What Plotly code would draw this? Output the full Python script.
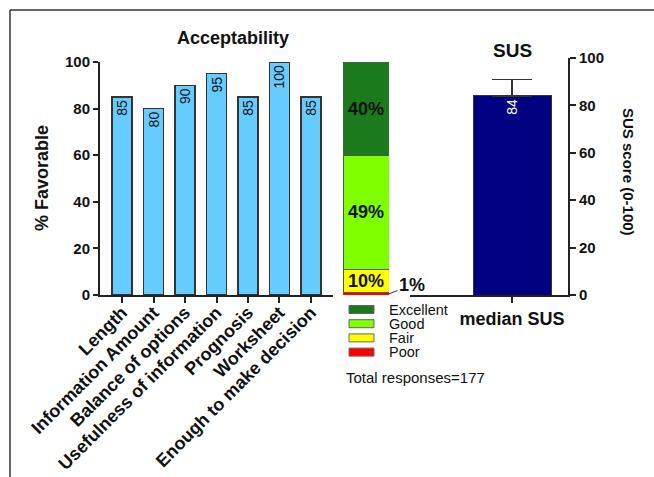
import plotly.graph_objects as go

# ---------------- data ----------------
categories = ["Length", "Information Amount", "Balance of options",
              "Usefulness of information", "Prognosis", "Worksheet",
              "Enough to make decision"]
favorable = [85, 80, 90, 95, 85, 100, 85]

rating_names = ["Poor", "Fair", "Good", "Excellent"]
rating_pct = [1, 10, 49, 40]
rating_colors = ["#FF0000", "#FFFF00", "#80FF00", "#1B7A1B"]
total_responses = 177

sus_label = ["median SUS"]
sus_value = [84]
sus_err_up = [7]

# ---------------- layout helpers ----------------
W, H = 654, 477
def px(x):
    return x / W
def py(y):
    return 1 - y / H

FONT = "Liberation Sans, Arial, sans-serif"
AXC = "#222222"

fig = go.Figure()

# Acceptability bars
fig.add_trace(go.Bar(
    x=categories, y=favorable, xaxis="x", yaxis="y",
    marker=dict(color="#66CCFF", line=dict(color="#333333", width=1.5)),
    width=0.635,
    text=[str(v) for v in favorable], textposition="inside",
    insidetextanchor="end", textangle=-90,
    textfont=dict(size=14, color="#111111", family=FONT),
    constraintext="none",
    showlegend=False, hoverinfo="x+y",
))

# Stacked rating bar
cum = 0
for name, val, col in zip(rating_names, rating_pct, rating_colors):
    fig.add_trace(go.Bar(
        x=[0], y=[val], xaxis="x2", yaxis="y", name=name,
        marker=dict(color=col, line=dict(color="#555555", width=1)),
        width=1, showlegend=False,
    ))
    mid = cum + val / 2
    if val >= 5:
        fig.add_annotation(x=0, y=mid, xref="x2", yref="y", text=f"{val}%",
                           showarrow=False, xanchor="center", yanchor="middle",
                           font=dict(size=18, color="#111111", family=FONT, weight="bold"))
    else:
        fig.add_annotation(x=0.5, y=mid, xref="x2", yref="y", text=f"{val}%",
                           showarrow=True, arrowhead=0, arrowwidth=1,
                           arrowcolor="#333333", ax=23, ay=-9,
                           font=dict(size=18, color="#111111", family=FONT, weight="bold"))
    cum += val

# SUS bar
fig.add_trace(go.Bar(
    x=sus_label, y=sus_value, xaxis="x3", yaxis="y3",
    marker=dict(color="#000080", line=dict(color="#333333", width=1)),
    width=1,
    error_y=dict(type="data", symmetric=False, array=sus_err_up,
                 arrayminus=[0], color="#333333", thickness=1.5, width=20),
    text=[str(v) for v in sus_value], textposition="inside",
    insidetextanchor="end", textangle=-90,
    textfont=dict(size=14, color="white", family=FONT),
    constraintext="none",
    showlegend=False,
))

tickfont = dict(size=15, color="#111111", family=FONT, weight="bold")

fig.update_layout(
    width=W, height=H,
    margin=dict(l=0, r=0, t=0, b=0, autoexpand=False),
    paper_bgcolor="white", plot_bgcolor="rgba(0,0,0,0)",
    barmode="stack",
    font=dict(family=FONT, color="#111111"),
    xaxis=dict(domain=[px(100), px(333)], range=[-0.7, 6.7],
               showline=True, linecolor=AXC, linewidth=2,
               ticks="outside", ticklen=6, tickwidth=2, tickcolor=AXC,
               tickangle=-45, showgrid=False, zeroline=False,
               tickfont=dict(size=18, color="#111111", family=FONT, weight="bold"),
               ticklabelstandoff=-8,
               anchor="y", automargin=False),
    yaxis=dict(domain=[py(295), py(62)], range=[0, 100], dtick=20,
               showline=True, linecolor=AXC, linewidth=2,
               ticks="outside", ticklen=5, tickwidth=2, tickcolor=AXC,
               showgrid=False, zeroline=False, tickfont=tickfont,
               anchor="x", automargin=False),
    xaxis2=dict(domain=[px(343), px(389)], range=[-0.5, 0.5],
                visible=False, anchor="y", automargin=False),
    xaxis3=dict(domain=[px(410), px(568)], range=[-1.3077, 0.7179],
                showline=True, linecolor=AXC, linewidth=2,
                ticks="outside", ticklen=6, tickwidth=2, tickcolor=AXC,
                showgrid=False, zeroline=False,
                tickfont=dict(size=18, color="#111111", family=FONT, weight="bold"),
                anchor="y3", automargin=False),
    yaxis3=dict(domain=[py(295), py(58)], range=[0, 100], dtick=20,
                side="right", anchor="x3",
                showline=True, linecolor=AXC, linewidth=2,
                ticks="outside", ticklen=6, tickwidth=2, tickcolor=AXC,
                showgrid=False, zeroline=False, tickfont=tickfont,
                automargin=False),
)

def note(x, y, text, size, bold=False, angle=0, xanchor="center"):
    f = dict(size=size, family=FONT, color="#111111")
    if bold:
        f["weight"] = "bold"
    fig.add_annotation(x=px(x), y=py(y), xref="paper", yref="paper",
                       text=text, showarrow=False, textangle=angle,
                       xanchor=xanchor, yanchor="middle", borderpad=0,
                       font=f)

# Titles
note(233, 38, "Acceptability", 18, bold=True)
note(512, 50, "SUS", 19, bold=True)
note(42, 178, "% Favorable", 18, bold=True, angle=-90)
note(629, 172, "SUS score (0-100)", 15, bold=True, angle=90)

# Manual legend (Excellent on top)
leg_y0, leg_dy = 309.5, 14.2
for i, (name, col) in enumerate(zip(rating_names[::-1], rating_colors[::-1])):
    yc = leg_y0 + i * leg_dy
    fig.add_shape(type="rect", xref="paper", yref="paper",
                  x0=px(349), x1=px(374), y0=py(yc + 4), y1=py(yc - 4),
                  fillcolor=col, line=dict(color="#666666", width=1))
    note(388, yc, name, 14.5, xanchor="left")

note(345, 377, f"Total responses={total_responses}", 15, xanchor="left")

# Frame lines (top and left)
fig.add_shape(type="line", xref="paper", yref="paper",
              x0=px(10), x1=1, y0=py(10), y1=py(10),
              line=dict(color="#333333", width=1.5))
fig.add_shape(type="line", xref="paper", yref="paper",
              x0=px(10), x1=px(10), y0=py(10), y1=0,
              line=dict(color="#333333", width=1.5))

fig.write_html("out.html")
